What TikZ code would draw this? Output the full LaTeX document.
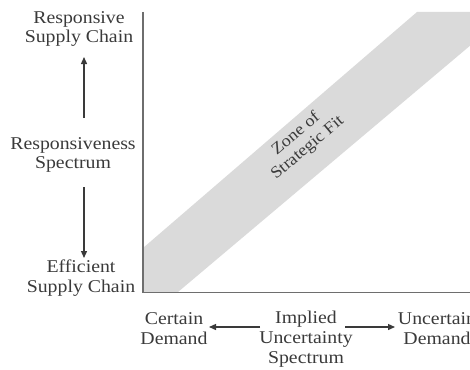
\documentclass[tikz,border=0pt]{standalone}
\usepackage{fontspec}
\setmainfont[FakeStretch=1.1]{Liberation Serif}
\usetikzlibrary{arrows.meta}
\definecolor{inkgray}{HTML}{3A3A3A}
\definecolor{axisgray}{HTML}{6E6E6E}
\definecolor{bandgray}{HTML}{DADADA}
\tikzset{
  lbl/.style={text=inkgray, font=\fontsize{18}{19.8}\selectfont, align=center, inner sep=0pt},
  zonelbl/.style={text=inkgray, font=\fontsize{16.5}{18}\selectfont, align=center, inner sep=0pt},
  spec/.style={draw=inkgray, line width=1.3pt, -{Triangle[length=7pt,width=6pt]}},
  axisline/.style={draw=axisgray, line width=1.1pt}
}
\begin{document}
\begin{tikzpicture}[x=1pt, y=-1pt]
\useasboundingbox (0,0) rectangle (470,369);
% zone of strategic fit band, clipped to the plot area
\begin{scope}
  \clip (143,12) rectangle (470,292);
  \fill[bandgray] (143,248) -- (417,12) -- (510,12) -- (178,292) -- (143,292) -- cycle;
\end{scope}
\node[zonelbl, rotate=40] (zone) at (302,141) {Zone of\\Strategic Fit};
% axes
\coordinate (origin) at (143,292.5);
\coordinate (ytop) at (143,12);
\coordinate (xend) at (471,292.5);
\draw[axisline] (ytop) -- (origin) -- (xend);
% vertical spectrum labels
\node[lbl] (resp) at (79,29) {Responsive\\Supply Chain};
\node[lbl] (rspec) at (73,155) {Responsiveness\\Spectrum};
\node[lbl] (eff) at (81,278) {Efficient\\Supply Chain};
\coordinate (ua) at (84,118);
\coordinate (ub) at (84,57);
\coordinate (da) at (84,187);
\coordinate (db) at (84,258);
\draw[spec] (ua) -- (ub);
\draw[spec] (da) -- (db);
% horizontal spectrum labels
\node[lbl] (cert) at (174,329) {Certain\\Demand};
\node[lbl] (impl) at (306,339) {Implied\\Uncertainty\\Spectrum};
\node[lbl] (unc) at (437,329) {Uncertain\\Demand};
\coordinate (la) at (260,327);
\coordinate (lb) at (209,327);
\coordinate (ra) at (345,327);
\coordinate (rb) at (395,327);
\draw[spec] (la) -- (lb);
\draw[spec] (ra) -- (rb);
\end{tikzpicture}
\end{document}
